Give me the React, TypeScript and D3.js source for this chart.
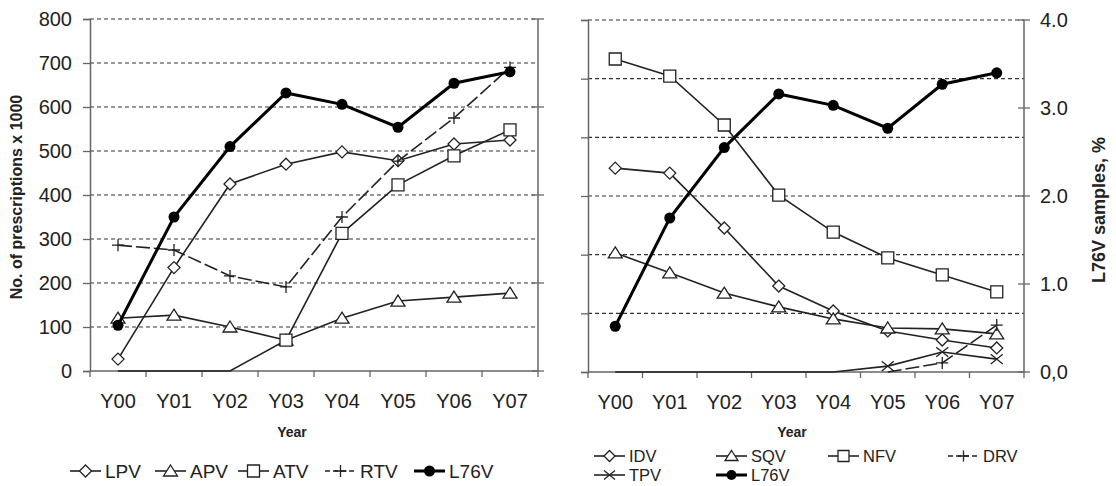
import React, { useEffect, useRef } from 'react';
import * as d3 from 'd3';

const years = ['Y00', 'Y01', 'Y02', 'Y03', 'Y04', 'Y05', 'Y06', 'Y07'];

// left panel, prescriptions x 1000
const lpv = [27, 235, 425, 470, 498, 478, 516, 525];
const apv = [120, 127, 100, 70, 120, 159, 168, 177];
const atv = [0, 0, 0, 70, 313, 423, 489, 548];
const rtv = [286, 275, 216, 191, 350, 477, 575, 690];

// right panel, prescriptions (unlabelled axis)
const idv = [69.5, 67.8, 49.1, 29.3, 20.8, 14.0, 10.9, 8.2];
const sqv = [40.6, 33.8, 26.9, 22.2, 18.1, 15.0, 14.7, 13.0];
const nfv = [106.7, 100.9, 84.2, 60.3, 47.7, 38.9, 33.1, 27.3];
const drv = [null, null, null, null, null, 0, 3.1, 16.0];
const tpv = [0, 0, 0, 0, 0, 2.0, 6.8, 4.4];

// L76V samples, % (secondary axis on both panels)
const l76v = [0.52, 1.75, 2.55, 3.16, 3.03, 2.77, 3.27, 3.4];

const leftTicks = [0, 100, 200, 300, 400, 500, 600, 700, 800];
const rightPrimaryTicks = [0, 20, 40, 60, 80, 100, 120];
const pctTicks = [0, 1, 2, 3, 4];
const pctLabels = ['0,0', '1.0', '2.0', '3.0', '4.0'];

const FONT = "'Liberation Sans', Arial, sans-serif";
const INK = '#222';
const AXIS = '#666';

const markerPath = (type, s = 6) => {
  switch (type) {
    case 'diamond':
      return `M0,${-s}L${s},0L0,${s}L${-s},0Z`;
    case 'square':
      return `M${-s},${-s}H${s}V${s}H${-s}Z`;
    case 'triangle':
      return `M0,${-s}L${s + 1},${s - 1}L${-s - 1},${s - 1}Z`;
    case 'plus':
      return `M${-s},0H${s}M0,${-s}V${s}`;
    case 'cross':
      return `M${-s},${-s * 0.8}L${s},${s * 0.8}M${-s},${s * 0.8}L${s},${-s * 0.8}`;
    default:
      return '';
  }
};

const drawMarker = (g, type, x, y, s = 6) => {
  if (type === 'dot') {
    g.append('circle').attr('cx', x).attr('cy', y).attr('r', s - 0.5).attr('fill', '#000');
    return;
  }
  g.append('path')
    .attr('transform', `translate(${x},${y})`)
    .attr('d', markerPath(type, s))
    .attr('fill', type === 'plus' || type === 'cross' ? 'none' : '#fff')
    .attr('stroke', INK)
    .attr('stroke-width', 1.3);
};

const panels = [
  {
    x0: 90, x1: 538, yTop: 19, yBot: 371,
    primary: [0, 800], primaryTicks: leftTicks, showPrimaryLabels: true, showPctLabels: false,
    yearX: 292, legendFont: 19, legendMarker: 6,
    series: [
      { name: 'LPV', values: lpv, marker: 'diamond', axis: 'p' },
      { name: 'APV', values: apv, marker: 'triangle', axis: 'p' },
      { name: 'ATV', values: atv, marker: 'square', axis: 'p' },
      { name: 'RTV', values: rtv, marker: 'plus', axis: 'p', dash: '14,4' },
      { name: 'L76V', values: l76v, marker: 'dot', axis: 's', bold: true },
    ],
    legend: [
      { name: 'LPV', marker: 'diamond', x: 70, y: 471 },
      { name: 'APV', marker: 'triangle', x: 155, y: 471 },
      { name: 'ATV', marker: 'square', x: 238, y: 471 },
      { name: 'RTV', marker: 'plus', x: 325, y: 471, dash: '5,3' },
      { name: 'L76V', marker: 'dot', x: 414, y: 471, bold: true },
    ],
  },
  {
    x0: 588, x1: 1024, yTop: 20, yBot: 372,
    primary: [0, 120], primaryTicks: rightPrimaryTicks, showPrimaryLabels: false, showPctLabels: true,
    yearX: 792, legendFont: 16.5, legendMarker: 5.5,
    series: [
      { name: 'IDV', values: idv, marker: 'diamond', axis: 'p' },
      { name: 'SQV', values: sqv, marker: 'triangle', axis: 'p' },
      { name: 'NFV', values: nfv, marker: 'square', axis: 'p' },
      { name: 'DRV', values: drv, marker: 'plus', axis: 'p', dash: '14,4' },
      { name: 'TPV', values: tpv, marker: 'cross', axis: 'p' },
      { name: 'L76V', values: l76v, marker: 'dot', axis: 's', bold: true },
    ],
    legend: [
      { name: 'IDV', marker: 'diamond', x: 594, y: 456 },
      { name: 'SQV', marker: 'triangle', x: 716, y: 456 },
      { name: 'NFV', marker: 'square', x: 828, y: 456 },
      { name: 'DRV', marker: 'plus', x: 948, y: 456, dash: '5,3' },
      { name: 'TPV', marker: 'cross', x: 594, y: 475 },
      { name: 'L76V', marker: 'dot', x: 716, y: 475, bold: true },
    ],
  },
];

const App = () => {
  const svgRef = useRef(null);

  useEffect(() => {
    const svg = d3.select(svgRef.current);
    svg.selectAll('*').remove();

    panels.forEach((p) => {
      const g = svg.append('g');
      const xScale = d3.scaleBand().domain(years).range([p.x0, p.x1]).padding(0);
      const bw = xScale.bandwidth();
      const cx = (yr) => xScale(yr) + bw / 2;
      const yP = d3.scaleLinear().domain(p.primary).range([p.yBot, p.yTop]);
      const yS = d3.scaleLinear().domain([0, 4]).range([p.yBot, p.yTop]);

      // gridlines
      g.selectAll('.grid')
        .data(p.primaryTicks.filter((t) => t > 0))
        .enter().append('line')
        .attr('x1', p.x0).attr('x2', p.x1)
        .attr('y1', (d) => yP(d)).attr('y2', (d) => yP(d))
        .attr('stroke', '#333')
        .attr('stroke-width', 1.2)
        .attr('stroke-dasharray', '4,3');

      // left axis
      const leftAxis = g.append('g')
        .attr('transform', `translate(${p.x0},0)`)
        .call(d3.axisLeft(yP).tickValues(p.primaryTicks).tickSize(7).tickPadding(11)
          .tickFormat(p.showPrimaryLabels ? d3.format('d') : () => ''));
      leftAxis.select('.domain').attr('stroke', AXIS).attr('stroke-width', 1.5);
      leftAxis.selectAll('.tick line').attr('stroke', AXIS).attr('stroke-width', 1.3);
      leftAxis.selectAll('text').attr('font-family', FONT).attr('font-size', 20).attr('fill', INK);

      // right axis (percent)
      g.append('line')
        .attr('x1', p.x1).attr('x2', p.x1).attr('y1', p.yTop).attr('y2', p.yBot)
        .attr('stroke', AXIS).attr('stroke-width', 1.5);
      pctTicks.forEach((t, i) => {
        g.append('line')
          .attr('x1', p.x1 - 6).attr('x2', p.x1 + 6)
          .attr('y1', yS(t)).attr('y2', yS(t))
          .attr('stroke', AXIS).attr('stroke-width', 1.3);
        if (p.showPctLabels) {
          g.append('text')
            .attr('x', p.x1 + 16).attr('y', yS(t)).attr('dy', '0.35em')
            .attr('font-family', FONT).attr('font-size', 20).attr('fill', INK)
            .text(pctLabels[i]);
        }
      });

      // x axis
      g.append('line')
        .attr('x1', p.x0).attr('x2', p.x1).attr('y1', p.yBot).attr('y2', p.yBot)
        .attr('stroke', AXIS).attr('stroke-width', 1.5);
      const bounds = years.map((yr) => xScale(yr)).concat([p.x1]);
      g.selectAll('.xtick')
        .data(bounds)
        .enter().append('line')
        .attr('x1', (d) => d).attr('x2', (d) => d)
        .attr('y1', p.yBot).attr('y2', p.yBot + 6)
        .attr('stroke', AXIS).attr('stroke-width', 1.3);
      g.selectAll('.xlabel')
        .data(years)
        .enter().append('text')
        .attr('x', (d) => cx(d)).attr('y', p.yBot + 37)
        .attr('text-anchor', 'middle')
        .attr('font-family', FONT).attr('font-size', 20).attr('fill', INK)
        .text((d) => d);

      g.append('text')
        .attr('x', p.yearX).attr('y', 437)
        .attr('text-anchor', 'middle')
        .attr('font-family', FONT).attr('font-size', 14).attr('font-weight', 'bold').attr('fill', INK)
        .text('Year');

      // series
      p.series.forEach((s) => {
        const sc = s.axis === 's' ? yS : yP;
        const pts = s.values.map((v, i) => ({ x: cx(years[i]), v }));
        const line = d3.line()
          .defined((d) => d.v !== null)
          .x((d) => d.x)
          .y((d) => sc(d.v));
        g.append('path')
          .datum(pts)
          .attr('d', line)
          .attr('fill', 'none')
          .attr('stroke', s.bold ? '#000' : INK)
          .attr('stroke-width', s.bold ? 3 : 1.6)
          .attr('stroke-dasharray', s.dash || null);
        pts.forEach((d) => {
          if (d.v === null) return;
          if (s.marker !== 'dot' && d.v === 0) return;
          drawMarker(g, s.marker, d.x, sc(d.v));
        });
      });

      // legend
      p.legend.forEach((it) => {
        const lg = svg.append('g');
        lg.append('line')
          .attr('x1', it.x).attr('x2', it.x + 31)
          .attr('y1', it.y).attr('y2', it.y)
          .attr('stroke', it.bold ? '#000' : INK)
          .attr('stroke-width', it.bold ? 3 : 1.6)
          .attr('stroke-dasharray', it.dash || null);
        drawMarker(lg, it.marker, it.x + 15.5, it.y, p.legendMarker);
        lg.append('text')
          .attr('x', it.x + 35).attr('y', it.y).attr('dy', '0.36em')
          .attr('font-family', FONT).attr('font-size', p.legendFont).attr('fill', INK)
          .text(it.name);
      });
    });

    // axis titles
    svg.append('text')
      .attr('transform', 'translate(22,197) rotate(-90)')
      .attr('text-anchor', 'middle')
      .attr('font-family', FONT).attr('font-size', 16).attr('font-weight', 'bold').attr('fill', INK)
      .text('No. of prescriptions x 1000');
    svg.append('text')
      .attr('transform', 'translate(1105,210) rotate(-90)')
      .attr('text-anchor', 'middle')
      .attr('font-family', FONT).attr('font-size', 18).attr('font-weight', 'bold').attr('fill', INK)
      .text('L76V samples, %');
  }, []);

  return (
    <svg
      ref={svgRef}
      width={1116}
      height={486}
      style={{ position: 'absolute', left: 0, top: 0, background: '#fff' }}
    ></svg>
  );
};

export default App;
